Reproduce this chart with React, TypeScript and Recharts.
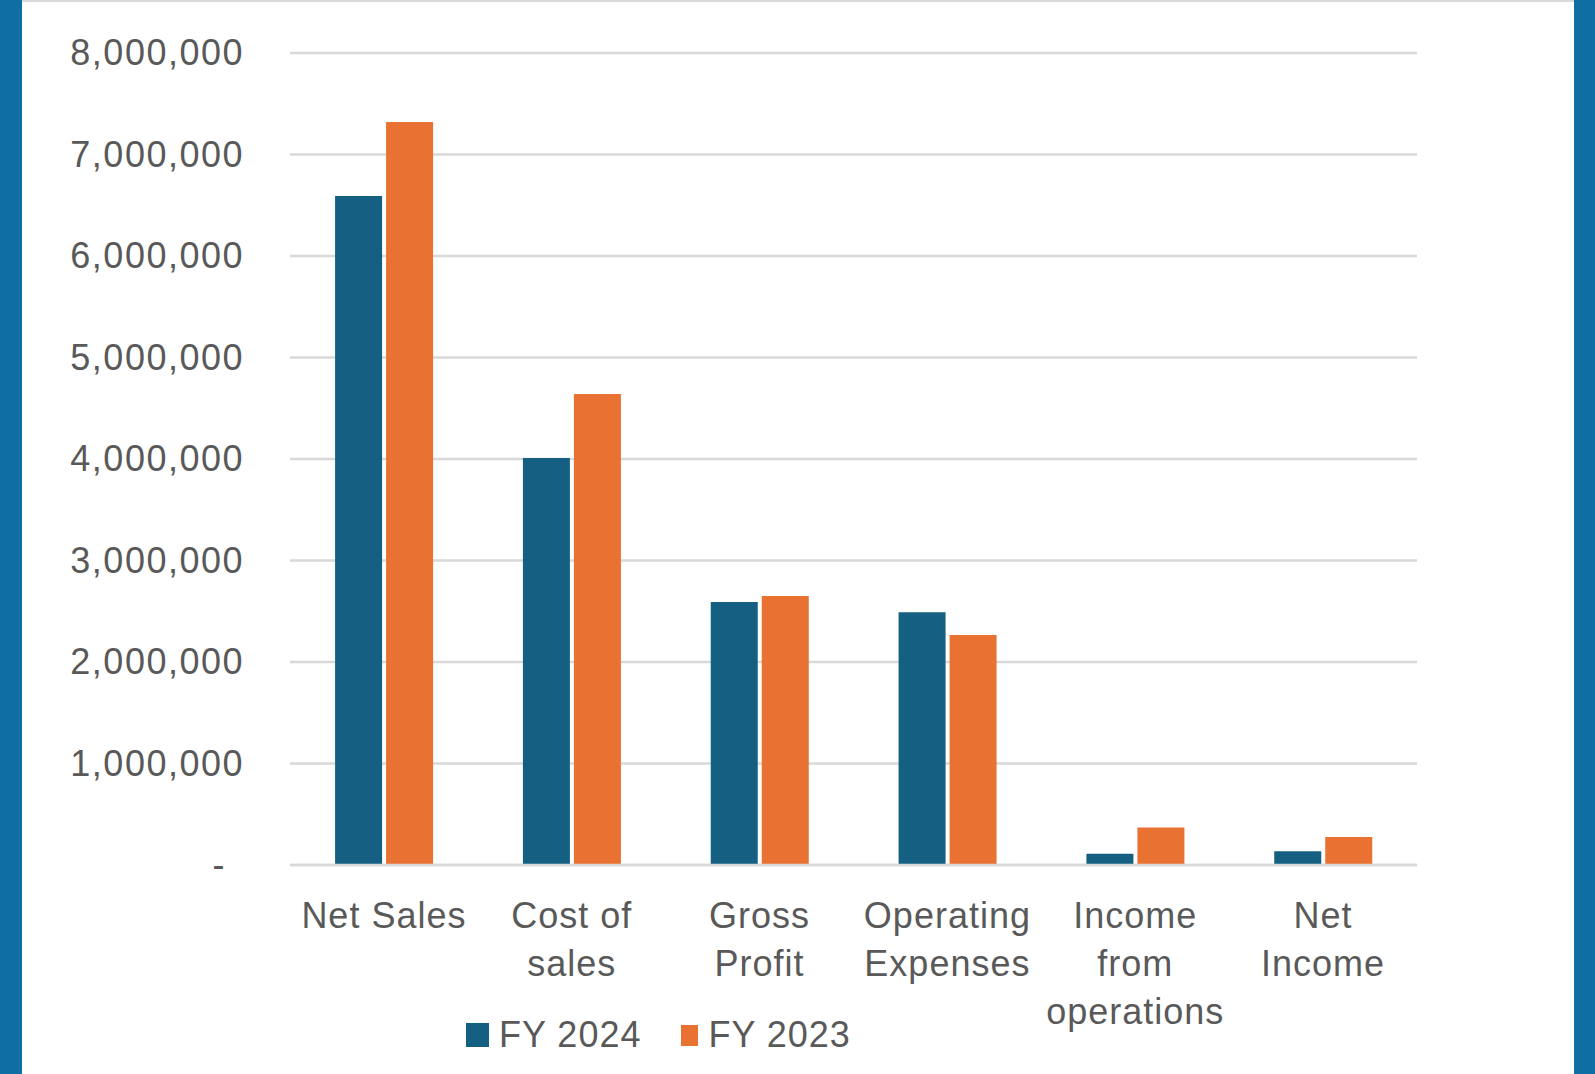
import React from 'react';
import { BarChart, Bar, XAxis, YAxis, CartesianGrid, Legend } from 'recharts';

const categories = ['Net Sales', 'Cost of sales', 'Gross Profit', 'Operating Expenses', 'Income from operations', 'Net Income'];
const categoryLines = [
    ['Net Sales'],
    ['Cost of', 'sales'],
    ['Gross', 'Profit'],
    ['Operating', 'Expenses'],
    ['Income', 'from', 'operations'],
    ['Net', 'Income'],
];
const fy2024 = [6590000, 4010000, 2590000, 2490000, 110000, 135000];
const fy2023 = [7320000, 4640000, 2650000, 2265000, 370000, 275000];
const yTicks = [0, 1000000, 2000000, 3000000, 4000000, 5000000, 6000000, 7000000, 8000000];
const seriesOrder = ['fy2024', 'fy2023'];

const data = categories.map((name, i) => ({ name, fy2024: fy2024[i], fy2023: fy2023[i] }));

const FONT = '"Liberation Sans", Arial, sans-serif';
const TEXT = '#595959';
const GRID = '#d9d9d9';
const BORDER = '#0f6fa3';

const YTick = (props: any) => {
    const { y, payload } = props;
    const v = payload.value as number;
    const label = v === 0 ? '-' : v.toLocaleString('en-US');
    return (
        <text x={v === 0 ? 226 : 244} y={y} dy={12} textAnchor="end" fill={TEXT}
            fontFamily={FONT} fontSize={36} letterSpacing={1.5}>
            {label}
        </text>
    );
};

const XTick = (props: any) => {
    const { x, payload } = props;
    const lines = categoryLines[categories.indexOf(payload.value)] || [payload.value];
    return (
        <text x={x} y={928} textAnchor="middle" fill={TEXT} fontFamily={FONT} fontSize={36} letterSpacing={1}>
            {lines.map((line, i) => (
                <tspan key={i} x={x} dy={i === 0 ? 0 : 48}>{line}</tspan>
            ))}
        </text>
    );
};

const LegendContent = (props: any) => {
    const items = [...(props.payload || [])].sort(
        (a: any, b: any) => seriesOrder.indexOf(a.dataKey) - seriesOrder.indexOf(b.dataKey)
    );
    return (
        <div style={{ display: 'flex', alignItems: 'center', fontFamily: FONT, fontSize: 36, color: TEXT, letterSpacing: 1 }}>
            {items.map((entry: any, i: number) => (
                <div key={i} style={{ display: 'flex', alignItems: 'center', marginRight: i === 0 ? 40 : 0 }}>
                    <div style={{ width: i === 0 ? 23 : 17, height: i === 0 ? 24 : 21, background: entry.color, marginRight: 10 }} />
                    <span>{entry.value}</span>
                </div>
            ))}
        </div>
    );
};

export default function App() {
    return (
        <div style={{ position: 'absolute', left: 0, top: 0, width: 1595, height: 1074, background: '#fff', overflow: 'hidden' }}>
            <BarChart width={1595} height={1074} data={data}
                margin={{ top: 53, right: 178, left: 20, bottom: 0 }}
                barCategoryGap="24%" barGap={4}>
                <CartesianGrid vertical={false} stroke={GRID} strokeWidth={2.5} />
                <XAxis dataKey="name" height={209} interval={0} tickLine={false}
                    axisLine={{ stroke: GRID, strokeWidth: 2.5 }} tick={<XTick />} />
                <YAxis width={270} domain={[0, 8000000]} ticks={yTicks} axisLine={false}
                    tickLine={false} tick={<YTick />} interval={0} />
                <Legend layout="horizontal" verticalAlign="middle" align="center"
                    wrapperStyle={{ position: 'absolute', left: 466, top: 1014, width: 'auto' }}
                    content={<LegendContent />} />
                <Bar dataKey="fy2024" name="FY 2024" fill="#156082" isAnimationActive={false} />
                <Bar dataKey="fy2023" name="FY 2023" fill="#e97132" isAnimationActive={false} />
            </BarChart>
            <div style={{ position: 'absolute', left: 0, top: 0, width: 22, height: 1074, background: BORDER }} />
            <div style={{ position: 'absolute', right: 0, top: 0, width: 21, height: 1074, background: BORDER }} />
            <div style={{ position: 'absolute', left: 22, top: 0, width: 1552, height: 2, background: GRID }} />
        </div>
    );
}
